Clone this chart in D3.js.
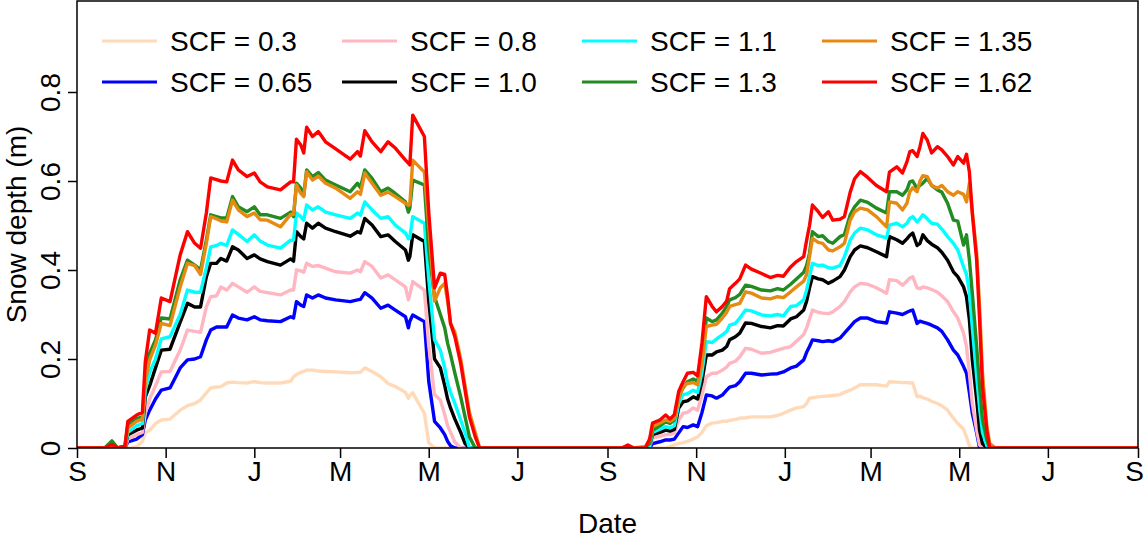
<!DOCTYPE html>
<html>
<head>
<meta charset="utf-8">
<script src="https://cdn.jsdelivr.net/npm/d3@7"></script>
<style>
  html, body { margin: 0; padding: 0; background: #fff; }
  svg { display: block; font-family: "Liberation Sans", Arial, Helvetica, sans-serif; }
</style>
</head>
<body>
<svg id="chart" width="1145" height="540"></svg>
<script>
// ---------- DATA (days since 1 Sep of first year) ----------
const days1 = [0,19,24,28,33,35,41,45,47,50, 54,58,64,71,76,81,85,89,92,96,
  99,103,107,111,117,122,126,131,140,147, 149,151,154,156,158,162,166,171,178,188,
  193,195,198,203,209,214,219,226,228,229, 231,239,242,246,250,253,255,257,260,264,
  267,270,274,277,281];
const days2 = [375,379,383,391,394,396,401,405,408,411, 414,417,420,424,427,430,433,437,440,444,
  447,449,453,456,460,464,471,477,482,486, 491,495,500,502,504,506,510,513,517,520,
  525,528,532,535,539,544,550,557,559,564, 568,571,573,575,578,580,582,585,588,592,
  595,599,603,606,610,612,614,616,619,621, 623,626,628,632,730];

const scf030_a = [0,0,0,0,0,0,.003,.015,.034,.04, .055,.063,.065,.085,.095,.10,.108,.124,.135,.137,
  .138,.146,.148,.147,.146,.149,.147,.146,.146,.15, .16,.165,.17,.172,.175,.175,.173,.172,.171,.169,
  .17,.17,.18,.172,.16,.145,.138,.125,.112,.118, .124,.078,.012,0,0,0,0,0,0,0, 0,0,0,0,0];
const scf030_b = [0,0,0,0,0,0,0,0,.003,.007, .01,.012,.015,.02,.025,.035,.05,.056,.057,.06,
  .06,.062,.064,.067,.068,.07,.07,.07,.073,.078, .085,.09,.093,.1,.112,.113,.115,.116,.117,.118,
  .12,.125,.13,.135,.142,.142,.142,.139,.149,.148, .147,.147,.146,.146,.115,.117,.113,.11,.105,.10,
  .095,.085,.067,.055,.042,.025,.005,0,0,0, 0,0,0,0,0];

const scf065_a = [0,0,0,0,0,.014,.02,.03,.063,.085, .11,.13,.135,.18,.198,.20,.205,.243,.265,.272,
  .272,.272,.299,.292,.288,.295,.288,.286,.284,.295, .292,.329,.321,.318,.344,.337,.344,.337,.333,.329,
  .333,.334,.349,.337,.314,.321,.31,.295,.27,.285, .299,.284,.15,.06,.045,.03,.015,.005,0,0, 0,0,0,0,0];
const scf065_b = [0,0,0,0,0,.01,.014,.018,.018,.02, .034,.048,.046,.052,.048,.08,.119,.117,.112,.119,
  .13,.137,.14,.149,.168,.168,.164,.166,.167,.171, .18,.184,.198,.215,.228,.243,.241,.239,.241,.239,
  .247,.258,.273,.284,.292,.292,.284,.281,.306,.303, .30,.305,.308,.31,.28,.285,.283,.28,.276,.27,
  .262,.243,.22,.209,.183,.168,.124,.078,.034,0, 0,0,0,0,0];

const scf080_a = [0,0,0,0,0,.02,.03,.035,.078,.11, .14,.171,.172,.22,.265,.262,.26,.317,.34,.342,
  .362,.355,.37,.362,.35,.362,.352,.349,.344,.355, .355,.40,.398,.395,.415,.408,.41,.404,.396,.393,
  .40,.396,.419,.408,.382,.389,.378,.362,.333,.345, .374,.355,.23,.12,.108,.075,.05,.035,.013,0, 0,0,0,0,0];
const scf080_b = [0,0,0,0,.003,.022,.026,.03,.03,.034, .063,.078,.08,.09,.085,.12,.16,.168,.168,.175,
  .182,.19,.195,.205,.224,.222,.213,.215,.22,.224, .228,.24,.255,.27,.29,.31,.305,.303,.302,.306,
  .318,.329,.351,.362,.37,.368,.36,.348,.378,.376, .366,.375,.382,.385,.36,.358,.362,.36,.356,.35,
  .342,.329,.306,.292,.258,.228,.168,.10,.04,.007, 0,0,0,0,0];

const scf100_a = [0,0,.002,0,.002,.03,.04,.045,.115,.14, .18,.22,.222,.283,.325,.317,.317,.385,.415,.415,
  .426,.42,.452,.445,.426,.434,.425,.419,.411,.425, .42,.486,.475,.47,.505,.494,.505,.494,.486,.476,
  .486,.483,.516,.501,.475,.479,.464,.445,.422,.43, .479,.464,.33,.20,.18,.14,.11,.09,.065,.035, .01,0,0,0,0];
const scf100_b = [0,0,0,0,.005,.03,.035,.04,.038,.042, .09,.104,.106,.115,.11,.15,.209,.209,.216,.22,
  .228,.243,.25,.258,.281,.28,.273,.27,.275,.274, .29,.295,.31,.33,.36,.385,.38,.378,.37,.375,
  .385,.40,.43,.445,.454,.45,.441,.43,.475,.468, .46,.47,.478,.483,.455,.46,.479,.466,.458,.45,
  .44,.422,.396,.385,.362,.34,.288,.198,.108,.04, .01,0,0,0,0];

const scf110_a = [0,0,.003,0,.002,.035,.05,.055,.13,.17, .20,.245,.25,.30,.355,.35,.35,.405,.452,.455,
  .46,.455,.49,.48,.464,.479,.465,.456,.449,.467, .467,.528,.52,.512,.546,.535,.542,.53,.524,.516,
  .528,.523,.553,.535,.516,.52,.501,.483,.47,.472, .52,.505,.38,.243,.22,.18,.145,.125,.10,.063, .034,0,0,0,0];
const scf110_b = [0,0,0,0,.005,.035,.042,.048,.045,.05, .10,.12,.122,.13,.125,.17,.239,.237,.245,.254,
  .262,.276,.28,.292,.31,.308,.299,.297,.30,.297, .318,.32,.333,.355,.385,.415,.41,.411,.405,.404,
  .41,.43,.467,.483,.494,.49,.479,.472,.501,.505, .497,.505,.516,.52,.508,.515,.524,.515,.505,.503,
  .492,.475,.46,.445,.407,.39,.35,.27,.16,.09, .035,.005,0,0,0];

const scf130_a = [0,0,.016,0,.004,.052,.066,.07,.16,.213, .243,.292,.29,.378,.422,.411,.40,.467,.524,.52,
  .517,.517,.565,.542,.531,.542,.524,.524,.516,.53, .52,.595,.584,.568,.625,.61,.619,.602,.591,.576,
  .595,.585,.625,.606,.576,.584,.572,.553,.53,.539, .602,.591,.445,.34,.30,.27,.235,.21,.168,.115, .07,.025,0,0,0];
const scf130_b = [0,.003,0,.002,.01,.04,.05,.059,.055,.063, .117,.135,.149,.155,.15,.20,.292,.284,.288,.303,
  .318,.333,.338,.345,.366,.363,.355,.353,.358,.355, .368,.38,.395,.41,.438,.486,.475,.477,.464,.46,
  .475,.48,.524,.542,.557,.552,.539,.528,.576,.576, .568,.58,.598,.60,.583,.59,.595,.606,.59,.58,
  .575,.55,.512,.51,.456,.479,.422,.348,.228,.138, .063,.018,0,0,0];

const scf135_a = [0,0,.005,0,.003,.045,.06,.065,.15,.198, .231,.28,.275,.362,.415,.41,.39,.46,.52,.515,
  .51,.508,.557,.535,.52,.528,.513,.512,.497,.525, .525,.591,.572,.565,.621,.602,.611,.595,.584,.561,
  .576,.57,.618,.595,.568,.575,.565,.55,.545,.548, .647,.62,.50,.33,.36,.37,.33,.28,.26,.20, .14,.08,.035,0,0];
const scf135_b = [0,.004,0,.003,.018,.048,.056,.063,.06,.066, .11,.138,.145,.147,.142,.19,.273,.276,.278,.292,
  .305,.318,.322,.325,.351,.348,.337,.335,.34,.338, .351,.362,.375,.39,.43,.471,.462,.46,.445,.443,
  .452,.46,.512,.531,.539,.535,.52,.497,.553,.55, .535,.55,.576,.585,.576,.60,.612,.61,.59,.584,
  .59,.576,.568,.576,.57,.553,.595,.53,.438,.318, .168,.048,.01,0,0];

const scf162_a = [0,0,.008,0,.005,.06,.074,.08,.194,.265, .258,.337,.329,.434,.486,.46,.449,.528,.607,.603,
  .60,.598,.647,.625,.61,.618,.598,.587,.58,.598, .598,.694,.681,.663,.721,.70,.711,.688,.672,.649,
  .666,.656,.713,.688,.666,.688,.674,.647,.64,.636, .748,.70,.53,.36,.393,.39,.34,.28,.25,.19, .13,.07,.025,0,0];
const scf162_b = [0,.007,0,0,.02,.056,.063,.074,.065,.075, .127,.149,.168,.17,.162,.236,.34,.318,.306,.318,
  .33,.358,.37,.38,.411,.402,.392,.383,.388,.386, .407,.419,.43,.467,.50,.546,.531,.518,.531,.512,
  .514,.52,.575,.605,.621,.608,.59,.576,.62,.632, .618,.643,.666,.668,.655,.677,.707,.692,.663,.677,
  .67,.655,.636,.655,.64,.66,.62,.528,.422,.288, .138,.04,0,0,0];

const seriesNames  = ["SCF = 0.3","SCF = 0.65","SCF = 0.8","SCF = 1.0","SCF = 1.1","SCF = 1.3","SCF = 1.35","SCF = 1.62"];
const seriesColors = ["#FFDAB9","#0000FF","#FFB6C1","#000000","#00FFFF","#228B22","#E68A12","#FF0000"];
const seriesA = [scf030_a, scf065_a, scf080_a, scf100_a, scf110_a, scf130_a, scf135_a, scf162_a];
const seriesB = [scf030_b, scf065_b, scf080_b, scf100_b, scf110_b, scf130_b, scf135_b, scf162_b];
// legend layout: row 1 then row 2 (index into series)
const legendRows = [[0,2,4,6],[1,3,5,7]];

const yTicks = [0, 0.2, 0.4, 0.6, 0.8];
const monthInitials = ["J","F","M","A","M","J","J","A","S","O","N","D"];
const xLabel = "Date";
const yLabel = "Snow depth (m)";

// ---------- CHART ----------
const svg = d3.select("#chart");
const pLeft = 77, pRight = 1138, pTop = 1, pBottom = 448;
const start = new Date(Date.UTC(2013, 8, 1));
const end = new Date(Date.UTC(2015, 8, 1));

const x = d3.scaleUtc().domain([start, end]).range([pLeft, pRight]);
const y = d3.scaleLinear().domain([0, 0.8]).range([pBottom, 92]);

const allDays = days1.concat(days2);
const line = d3.line()
  .x(d => x(d3.utcDay.offset(start, d[0])))
  .y(d => y(d[1]));

svg.append("clipPath").attr("id", "clip")
  .append("rect").attr("x", pLeft).attr("y", pTop).attr("width", pRight - pLeft).attr("height", pBottom - pTop);

const g = svg.append("g").attr("clip-path", "url(#clip)");
seriesNames.forEach((name, i) => {
  const vals = seriesA[i].concat(seriesB[i]);
  const pts = allDays.map((d, k) => [d, vals[k]]);
  g.append("path")
    .attr("d", line(pts))
    .attr("fill", "none")
    .attr("stroke", seriesColors[i])
    .attr("stroke-width", 3.4)
    .attr("stroke-linejoin", "round");
});

// axes
const xTickVals = d3.utcMonth.every(2).range(start, d3.utcDay.offset(end, 1));
const xAxis = d3.axisBottom(x)
  .tickValues(xTickVals)
  .tickSize(10)
  .tickFormat(d => monthInitials[d.getUTCMonth()]);
const gx = svg.append("g").attr("transform", `translate(0,${pBottom})`).call(xAxis);
gx.select(".domain").remove();
gx.selectAll(".tick line").attr("stroke", "#000").attr("stroke-width", 1.5);
gx.selectAll(".tick text")
  .attr("font-size", 28).attr("fill", "#000")
  .attr("dy", null).attr("y", 33)
  .attr("x", (d, i, n) => i === n.length - 1 ? -4 : 0)
  .style("font-family", "'Liberation Sans', Arial, sans-serif");

const yAxis = d3.axisLeft(y)
  .tickValues(yTicks)
  .tickSize(9)
  .tickFormat(d => d === 0 ? "0" : d.toFixed(1));
const gy = svg.append("g").attr("transform", `translate(${pLeft},0)`).call(yAxis);
gy.select(".domain").remove();
gy.selectAll(".tick line").attr("stroke", "#000").attr("stroke-width", 1.5);
gy.selectAll(".tick text")
  .attr("font-size", 28).attr("fill", "#000")
  .attr("x", null).attr("dy", null)
  .attr("text-anchor", "middle")
  .attr("transform", "translate(-17,0) rotate(-90)")
  .style("font-family", "'Liberation Sans', Arial, sans-serif");

// frame
svg.append("rect")
  .attr("x", pLeft).attr("y", pTop)
  .attr("width", pRight - pLeft).attr("height", pBottom - pTop)
  .attr("fill", "none").attr("stroke", "#000").attr("stroke-width", 1.5);

// axis titles
svg.append("text")
  .attr("x", (pLeft + pRight) / 2).attr("y", 533)
  .attr("text-anchor", "middle").attr("font-size", 28).attr("fill", "#000")
  .text(xLabel);
svg.append("text")
  .attr("transform", `translate(26,${(pTop + pBottom) / 2}) rotate(-90)`)
  .attr("text-anchor", "middle").attr("font-size", 28).attr("fill", "#000")
  .text(yLabel);

// legend
const legX = [102, 342, 582, 822];
const legY = [41, 82];
legendRows.forEach((row, r) => {
  row.forEach((si, c) => {
    svg.append("line")
      .attr("x1", legX[c]).attr("x2", legX[c] + 55)
      .attr("y1", legY[r]).attr("y2", legY[r])
      .attr("stroke", seriesColors[si]).attr("stroke-width", 3.2);
    svg.append("text")
      .attr("x", legX[c] + 68).attr("y", legY[r] + 10)
      .attr("font-size", 28).attr("fill", "#000")
      .text(seriesNames[si]);
  });
});
</script>
</body>
</html>
